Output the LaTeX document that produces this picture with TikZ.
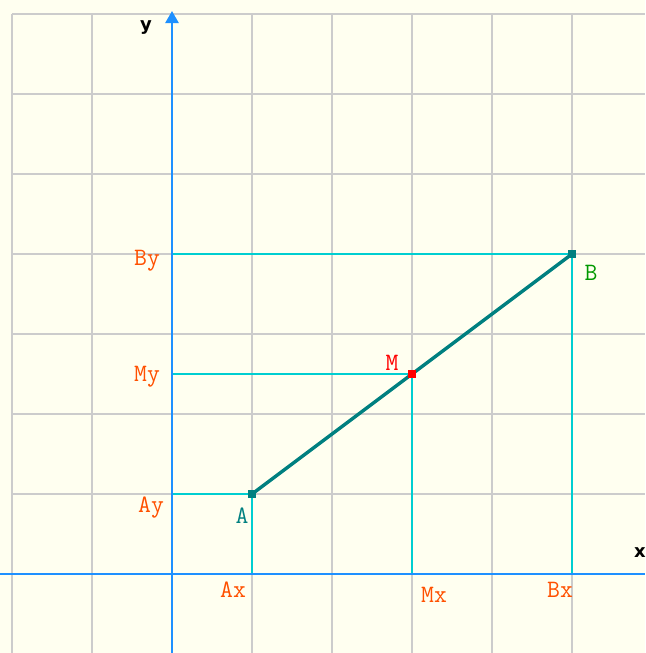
\documentclass[tikz,border=0pt]{standalone}
\usepackage{fontspec}
\newfontfamily\axfont{DejaVu Sans}
\usetikzlibrary{arrows.meta}
\definecolor{bgc}{RGB}{255,255,240}
\definecolor{gridc}{RGB}{204,204,204}
\definecolor{axisc}{RGB}{30,144,255}
\definecolor{cyanc}{RGB}{0,206,209}
\definecolor{tealc}{RGB}{0,128,128}
\definecolor{orangec}{RGB}{255,80,0}
\definecolor{greenc}{RGB}{0,153,0}
\definecolor{redc}{RGB}{255,0,0}
\tikzset{
  gridline/.style={draw=gridc, line width=2pt},
  axisline/.style={draw=axisc, line width=2.4pt},
  projline/.style={draw=cyanc, line width=2pt},
  segline/.style={draw=tealc, line width=3.4pt},
  marker/.style={rectangle, inner sep=0pt, minimum size=8.5pt},
  coordlabel/.style={text=orangec, font=\ttfamily\fontsize{25}{25}\selectfont, anchor=base, inner sep=0pt},
  ptlabel/.style={font=\ttfamily\fontsize{25}{25}\selectfont, anchor=base, inner sep=0pt},
  axlabel/.style={font=\axfont\bfseries\fontsize{18}{18}\selectfont, anchor=base, inner sep=0pt}
}
\begin{document}
\begin{tikzpicture}[x=1pt,y=-1pt]
\useasboundingbox (0,0) rectangle (645,653);
\fill[bgc] (0,0) rectangle (645,653);
% grid
\foreach \gx in {12,92,252,332,412,492,572} {
  \draw[gridline] (\gx,14) -- (\gx,653);
}
\foreach \gy in {14,94,174,254,334,414,494} {
  \draw[gridline] (12,\gy) -- (645,\gy);
}
% points
\coordinate (A) at (252,494);
\coordinate (B) at (572,254);
\coordinate (M) at (412,374);
\coordinate (Ay0) at (172,494);
\coordinate (By0) at (172,254);
\coordinate (My0) at (172,374);
\coordinate (Ax0) at (252,574);
\coordinate (Bx0) at (572,574);
\coordinate (Mx0) at (412,574);
% projections
\draw[projline] (Ay0) -- (A) -- (Ax0);
\draw[projline] (By0) -- (B) -- (Bx0);
\draw[projline] (My0) -- (M) -- (Mx0);
% axes
\coordinate (xl) at (0,574);
\coordinate (xr) at (645,574);
\coordinate (yb) at (172,653);
\coordinate (yt) at (172,11);
\draw[axisline] (xl) -- (xr);
\draw[axisline, -{Triangle[length=12pt,width=13pt]}] (yb) -- (yt);
% segment
\draw[segline] (A) -- (B);
\node[marker, fill=tealc] (Am) at (A) {};
\node[marker, fill=tealc] (Bm) at (B) {};
\node[marker, fill=redc] (Mm) at (M) {};
% labels
\node[axlabel] (ylab) at (146,30) {y};
\node[axlabel] (xlab) at (640,557) {x};
\node[coordlabel] (By) at (147,265) {By};
\node[coordlabel] (My) at (147,381) {My};
\node[coordlabel] (Ay) at (151,512) {Ay};
\node[coordlabel] (Ax) at (233,597) {Ax};
\node[coordlabel] (Mx) at (434,602) {Mx};
\node[coordlabel] (Bx) at (560,597) {Bx};
\node[ptlabel, text=tealc] (Alab) at (242,523) {A};
\node[ptlabel, text=greenc] (Blab) at (591,280) {B};
\node[ptlabel, text=redc] (Mlab) at (392,370) {M};
\end{tikzpicture}
\end{document}
